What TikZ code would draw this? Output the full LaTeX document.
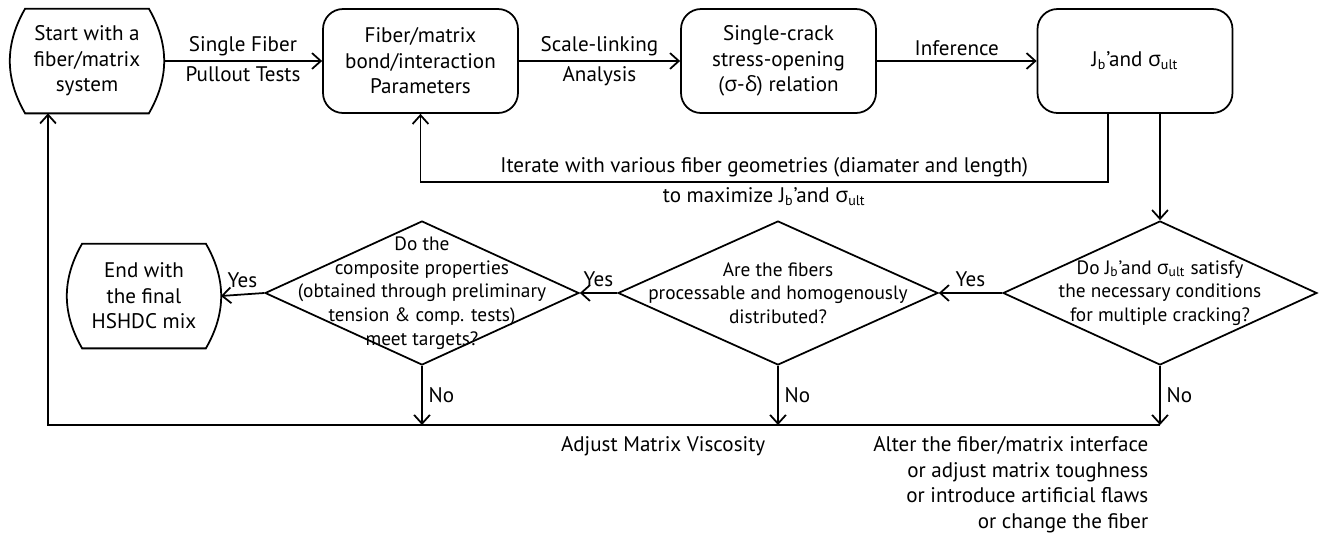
\documentclass[tikz,border=0pt]{standalone}
\usepackage{fontspec}
\setmainfont{PT Sans}
\newfontfamily\grk{Open Sans}
\usetikzlibrary{shapes.geometric,arrows.meta}
\newcommand{\sig}{{\grk σ}}
\newcommand{\Jb}{J\textsubscript{b}’}
\begin{document}
\begin{tikzpicture}[x=0.02cm, y=-0.02cm, line width=1pt,
  >={Straight Barb[length=5pt,width=9pt]},
  font=\fontsize{12}{14.5}\selectfont,
  box/.style={draw, rounded corners=0.4cm, minimum width=3.9cm, minimum height=2.08cm, align=center},
  term/.style={minimum width=3.04cm, minimum height=2.06cm, align=center, inner sep=0pt},
  decision/.style={draw, diamond, minimum width=6.28cm, minimum height=2.88cm, inner sep=0pt},
  qtext/.style={align=center, font=\fontsize{11}{13.5}\selectfont},
  lbl/.style={inner sep=2.5pt}]
\useasboundingbox (0,0) rectangle (1320,542);

\node [term] (start) at (87,61) {Start with a\\fiber/matrix\\system};
\draw ([xshift=0.3cm]start.north west) -- ([xshift=-0.3cm]start.north east)
  to[bend left=30] ([xshift=-0.3cm]start.south east) -- ([xshift=0.3cm]start.south west)
  to[bend left=30] cycle;
\node [box] (bond) at (420.5,61) {Fiber/matrix\\bond/interaction\\Parameters};
\node [box] (crack) at (778.5,61) {Single-crack\\stress-opening\\({\grk σ}-{\grk δ}) relation};
\node [box] (jb) at (1135,61) {\Jb and \sig\textsubscript{ult}};

\draw [->] (start) -- node [lbl, above] (pullA) {Single Fiber} node [lbl, below] (pullB) {Pullout Tests} (bond);
\draw [->] (bond) -- node [lbl, above] (scaleA) {Scale-linking} node [lbl, below] (scaleB) {Analysis} (crack);
\draw [->] (crack) -- node [lbl, above] (infer) {Inference} (jb);

\coordinate (loop) at (1108,182);
\draw [->] (jb.south -| loop) -- (loop)
  -- node [lbl, above] (iterA) {Iterate with various fiber geometries (diamater and length)}
     node [lbl, below] (iterB) {to maximize \Jb and \sig\textsubscript{ult}} (loop -| bond.south)
  -- (bond.south);

\node [decision] (d1) at (1160,293) {};
\node [qtext] (q1) at (d1) {Do \Jb and \sig\textsubscript{ult} satisfy\\the necessary conditions\\for multiple cracking?};
\node [decision, minimum width=6.4cm] (d2) at (778,293) {};
\node [qtext] (q2) at (d2) {Are the fibers\\processable and homogenously\\distributed?};
\node [decision] (d3) at (422,293) {};
\node [qtext] (q3) at (d3) {Do the\\composite properties\\(obtained through preliminary\\tension \& comp. tests)\\meet targets?};

\node [term] (finish) at (144,296) {End with\\the final\\HSHDC mix};
\draw ([xshift=0.3cm]finish.north west) -- ([xshift=-0.3cm]finish.north east)
  to[bend left=30] ([xshift=-0.3cm]finish.south east) -- ([xshift=0.3cm]finish.south west)
  to[bend left=30] cycle;

\draw [->] (d1.north |- jb.south) -- (d1.north);
\draw [->] (d1.west) -- node [above] (yes1) {Yes} (d2.east);
\draw [->] (d2.west) -- node [above] (yes2) {Yes} (d3.east);
\draw [->] (d3.west) -- node [above] (yes3) {Yes} (finish.east);

\coordinate (ret) at (48,425);
\draw [->] (d3.south) -- node [right] (no3) {No} (d3.south |- ret);
\draw [->] (d2.south) -- node [right] (no2) {No} (d2.south |- ret);
\draw [->] (d1.south) -- node [right] (no1) {No} (d1.south |- ret);
\draw [->] (d1.south |- ret) -- (ret) -- (start.south -| ret);

\node [anchor=north east] (visc) at (772,430) {Adjust Matrix Viscosity};
\node [anchor=north east, align=right] (alter) at (1155,430)
  {Alter the fiber/matrix interface\\or adjust matrix toughness\\or introduce artificial flaws\\or change the fiber};
\end{tikzpicture}
\end{document}
